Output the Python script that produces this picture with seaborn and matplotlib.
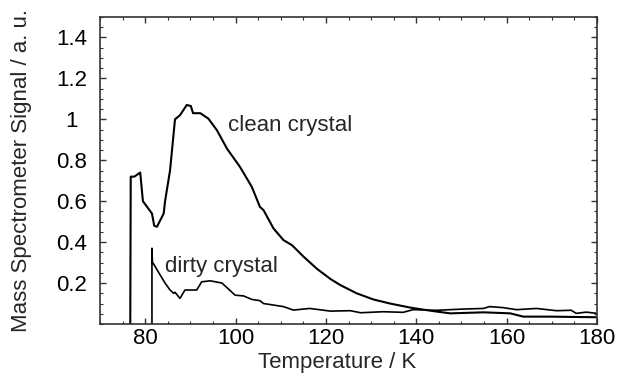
import matplotlib
matplotlib.use("Agg")
import matplotlib.pyplot as plt
import seaborn as sns
import pandas as pd
from matplotlib.ticker import MultipleLocator, FixedLocator

# Data
clean_T = [76.7, 76.8, 77.6, 78.9, 79.5, 81.5, 82.0, 82.6, 84.1, 84.4, 85.5, 86.6, 87.7,
           89.2, 90.1, 90.6, 92.2, 94.0, 95.9, 98.1, 101.0, 103.6, 105.4, 106.2, 108.4,
           110.6, 112.5, 115.1, 118.0, 121.0, 123.2, 126.8, 130.5, 134.2, 138.7, 143.1,
           147.5, 154.9, 160.8, 163.7, 169.6, 180.0]
clean_S = [0.0, 0.72, 0.72, 0.74, 0.60, 0.54, 0.48, 0.475, 0.54, 0.60, 0.75, 1.0, 1.02,
           1.07, 1.065, 1.03, 1.03, 1.003, 0.946, 0.857, 0.767, 0.67, 0.572, 0.556, 0.467,
           0.41, 0.385, 0.328, 0.27, 0.22, 0.19, 0.15, 0.12, 0.10, 0.08, 0.065,
           0.052, 0.057, 0.052, 0.036, 0.036, 0.033]

dirty_T = [81.5, 81.5, 81.6, 81.8, 83.3, 84.4, 85.5, 86.3, 86.6, 87.7, 88.8, 91.4, 92.5,
           94.4, 97.0, 99.9, 101.8, 103.6, 105.4, 106.2, 110.6, 112.8, 116.4, 121.0,
           125.4, 127.7, 132.7, 137.1, 139.3, 144.5, 150.4, 154.9, 156.2, 159.2, 162.2,
           166.6, 171.0, 174.3, 175.4, 177.6, 180.0]
dirty_S = [0.0, 0.37, 0.30, 0.296, 0.24, 0.20, 0.166, 0.15, 0.155, 0.125, 0.166, 0.166, 0.206,
           0.211, 0.20, 0.141, 0.137, 0.12, 0.114, 0.10, 0.085, 0.068, 0.076, 0.063,
           0.065, 0.055, 0.06, 0.057, 0.07, 0.067, 0.073, 0.076, 0.085, 0.08, 0.07,
           0.076, 0.065, 0.067, 0.052, 0.058, 0.052]

x_ticks = [80, 100, 120, 140, 160, 180]
y_ticks = [0.2, 0.4, 0.6, 0.8, 1.0, 1.2, 1.4]
y_tick_labels = ["0.2", "0.4", "0.6", "0.8", "1", "1.2", "1.4"]

sns.set_theme(style="ticks")
plt.rcParams['font.family'] = ['Liberation Sans', 'DejaVu Sans']

FS = 16
fig = plt.figure(figsize=(6.19, 3.75), dpi=100)
ax = fig.add_axes([100/619, 1-324/375, (597-100)/619, (324-17)/375])

df_c = pd.DataFrame({"T": clean_T, "S": clean_S})
df_d = pd.DataFrame({"T": dirty_T, "S": dirty_S})
sns.lineplot(data=df_c, x="T", y="S", ax=ax, color="black", lw=1.5, sort=False, estimator=None)
sns.lineplot(data=df_d, x="T", y="S", ax=ax, color="black", lw=1.2, sort=False, estimator=None)

ax.set_xlim(70, 180)
ax.set_ylim(0, 1.5)
ax.xaxis.set_major_locator(FixedLocator(x_ticks))
ax.xaxis.set_minor_locator(MultipleLocator(5))
ax.yaxis.set_major_locator(FixedLocator(y_ticks))
ax.set_yticklabels(y_tick_labels)
ax.yaxis.set_minor_locator(MultipleLocator(0.05))
ax.tick_params(which="both", direction="in", top=True, right=True, colors="#333333",
               labelcolor="black", labelsize=FS)
ax.tick_params(which="major", length=4, width=1)
ax.tick_params(which="minor", length=2, width=0.8)
ax.tick_params(axis="x", pad=3)
ax.tick_params(axis="y", pad=20.5)
for lab in ax.get_yticklabels():
    lab.set_horizontalalignment("center")
for s in ax.spines.values():
    s.set_color("#333333")
    s.set_linewidth(1.2)

ax.set_xlabel("Temperature / K", fontsize=FS)
ax.set_ylabel("Mass Spectrometer Signal / a. u.", fontsize=FS)
ax.xaxis.set_label_coords(0.478, -0.092)
ax.yaxis.set_label_coords(-0.137, 0.5)

ax.text(98.4, 0.97, "clean crystal", fontsize=FS, va="center", ha="left")
ax.text(84.4, 0.28, "dirty crystal", fontsize=FS, va="center", ha="left")

fig.savefig("out.png", dpi=100)
